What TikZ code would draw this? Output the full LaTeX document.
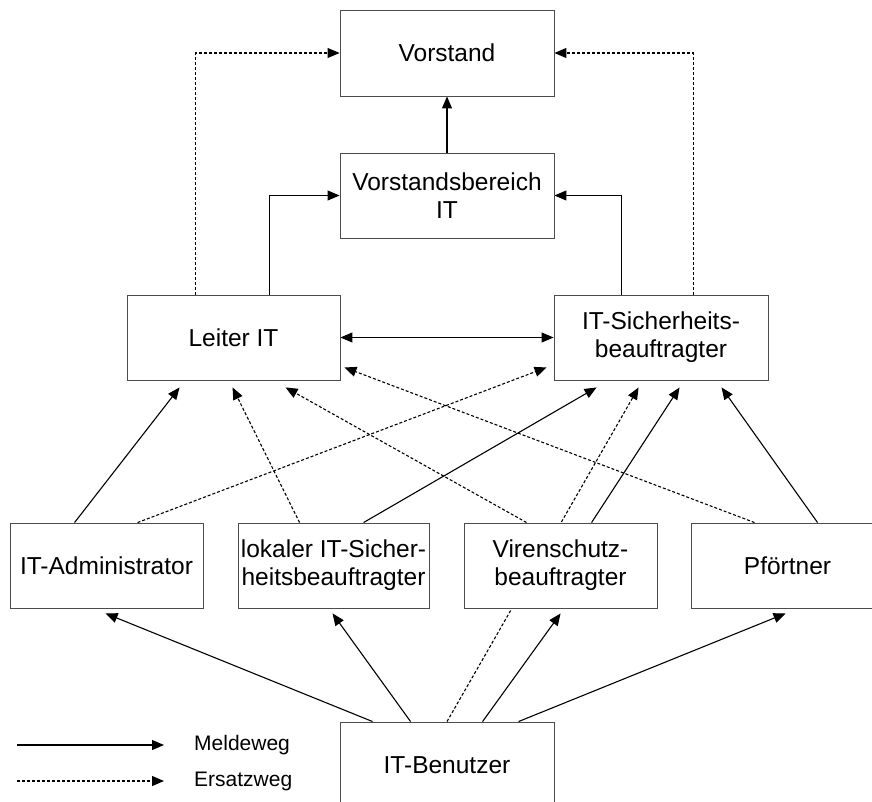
\documentclass[tikz,border=0pt]{standalone}
\usepackage{fontspec}
\setmainfont{Liberation Sans}
\usetikzlibrary{arrows.meta,calc,backgrounds}
\begin{document}
\begin{tikzpicture}[x=1pt,y=-1pt,
  box/.style={draw=black!70,line width=0.9pt,fill=white,rectangle,align=center,
    inner sep=0pt,font=\fontsize{24.5}{28}\selectfont},
  conn/.style={line width=1.1pt,-{Triangle[length=12pt,width=10pt]}},
  alt/.style={conn,dash pattern=on 3pt off 2pt},
  bidir/.style={line width=1.1pt,{Triangle[length=12pt,width=10pt]}-{Triangle[length=12pt,width=10pt]}},
  legtext/.style={font=\fontsize{21}{24}\selectfont,anchor=west,inner sep=0pt}]
\useasboundingbox (0,0) rectangle (872,802);
% nodes
\node[box,minimum width=214pt,minimum height=86pt] (vorstand) at (447,53) {Vorstand};
\node[box,minimum width=214pt,minimum height=85pt] (vbereich) at (447,195.5) {Vorstandsbereich\\IT};
\node[box,minimum width=213pt,minimum height=85pt] (leiter) at (233.5,337.5) {Leiter IT};
\node[box,minimum width=214pt,minimum height=85pt] (itsb) at (661,337.5) {IT-Sicherheits-\\beauftragter};
\node[box,minimum width=193pt,minimum height=85pt] (admin) at (106.5,565.5) {IT-Administrator};
\node[box,minimum width=191pt,minimum height=85pt] (lokal) at (333.5,565.5) {lokaler IT-Sicher-\\heitsbeauftragter};
\node[box,minimum width=193pt,minimum height=85pt] (viren) at (560.5,565.5) {Virenschutz-\\beauftragter};
\node[box,minimum width=193pt,minimum height=85pt] (pfoert) at (787.5,565.5) {Pförtner};
\node[box,minimum width=214pt,minimum height=86pt] (benutzer) at (447,765) {IT-Benutzer};
% legend
\node[legtext] (meld) at (194,745) {Meldeweg};
\node[legtext] (ersatz) at (194,781) {Ersatzweg};
\coordinate (lm) at (17,745);
\coordinate (le) at (17,781);
\begin{scope}[on background layer]
% top
\draw[alt] ($(leiter.north west)+(69,0)$) |- (vorstand.west);
\draw[alt] ($(itsb.north west)+(140,0)$) |- (vorstand.east);
\draw[conn] ($(leiter.north west)+(143,0)$) |- (vbereich.west);
\draw[conn] ($(itsb.north west)+(68,0)$) |- (vbereich.east);
\draw[conn] (vbereich.north) -- (vorstand.south);
\draw[bidir] (leiter.east) -- (itsb.west);
% to Leiter IT
\draw[conn] ($(admin.north west)+(65,0)$) -- ($(leiter.south west)+(53,7)$);
\draw[alt] ($(lokal.north west)+(62,0)$) -- ($(leiter.south west)+(106,7)$);
\draw[alt] ($(viren.north west)+(63,0)$) -- ($(leiter.south west)+(159,7)$);
\draw[alt] ($(pfoert.north west)+(64,0)$) -- ($(leiter.south east)+(4,-13)$);
% to IT-Sicherheitsbeauftragter
\draw[alt] ($(admin.north west)+(128,0)$) -- ($(itsb.south west)+(-7,-13)$);
\draw[conn] ($(lokal.north west)+(126,0)$) -- ($(itsb.south west)+(43,7)$);
\draw[alt] (benutzer.north) -- ($(itsb.south west)+(85,7)$);
\draw[conn] ($(viren.north west)+(128,0)$) -- ($(itsb.south west)+(126,7)$);
\draw[conn] ($(pfoert.north west)+(127,0)$) -- ($(itsb.south west)+(168,7)$);
% from IT-Benutzer
\draw[conn] ($(benutzer.north west)+(33,0)$) -- ($(admin.south west)+(96,5)$);
\draw[conn] ($(benutzer.north west)+(71,0)$) -- ($(lokal.south west)+(95,5)$);
\draw[conn] ($(benutzer.north west)+(143,0)$) -- ($(viren.south west)+(97,5)$);
\draw[conn] ($(benutzer.north west)+(179,0)$) -- ($(pfoert.south west)+(95,5)$);
% legend
\draw[conn] (lm) -- ($(meld.west)+(-30,0)$);
\draw[alt] (le) -- ($(ersatz.west)+(-30,0)$);
\end{scope}
\end{tikzpicture}
\end{document}
